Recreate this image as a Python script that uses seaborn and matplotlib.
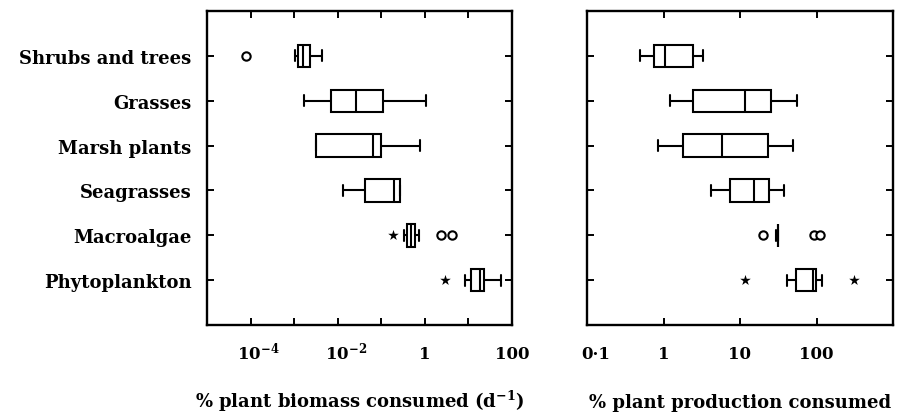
import numpy as np
import pandas as pd
import matplotlib
matplotlib.use("Agg")
import matplotlib.pyplot as plt
from matplotlib.ticker import FixedLocator, NullLocator
from matplotlib.transforms import ScaledTranslation
import seaborn as sns

# ---------------- data ----------------
categories = ["Shrubs and trees", "Grasses", "Marsh plants",
              "Seagrasses", "Macroalgae", "Phytoplankton"]

# Left panel: % plant biomass consumed (per day)
bio_whislo = [0.00105, 0.0017, 0.0031, 0.0135, 0.33, 8.5]
bio_q1     = [0.0012, 0.0072, 0.0032, 0.042, 0.39, 11.7]
bio_med    = [0.00158, 0.026, 0.063, 0.20, 0.47, 18.0]
bio_q3     = [0.0023, 0.11, 0.10, 0.27, 0.59, 22.4]
bio_whishi = [0.0044, 1.05, 0.77, 0.275, 0.74, 57.0]
bio_circle_cat = ["Shrubs and trees", "Macroalgae", "Macroalgae"]
bio_circle_val = [7.8e-5, 2.4, 4.1]
bio_star_cat = ["Macroalgae", "Phytoplankton"]
bio_star_val = [0.19, 2.95]
bio_ticks  = [1e-5, 1e-4, 1e-3, 1e-2, 1e-1, 1, 10, 100]
bio_labels = ["", r"$10^{-4}$", "", r"$10^{-2}$", "", "1", "", "100"]

# Right panel: % plant production consumed
prod_whislo = [0.50, 1.23, 0.85, 4.2, 29.5, 40.7]
prod_q1     = [0.76, 2.45, 1.8, 7.4, 31.0, 53.7]
prod_med    = [1.05, 11.5, 5.75, 15.1, 31.0, 91.0]
prod_q3     = [2.45, 25.7, 22.9, 24.0, 31.0, 98.0]
prod_whishi = [3.3, 55.0, 49.0, 38.0, 31.5, 117.0]
prod_circle_cat = ["Macroalgae", "Macroalgae", "Macroalgae"]
prod_circle_val = [20.0, 93.0, 112.0]
prod_star_cat = ["Phytoplankton", "Phytoplankton"]
prod_star_val = [11.7, 309.0]
prod_ticks  = [0.1, 1, 10, 100, 1000]
prod_labels = ["0\u00b71", "1", "10", "100", ""]

xlabel_left = "% plant biomass consumed (d$^{-1}$)"
xlabel_right = "% plant production consumed"


def long_table(lo, q1, med, q3, hi):
    rows = []
    for c, a, b, m, d, e in zip(categories, lo, q1, med, q3, hi):
        for v in (a, b, m, d, e):
            rows.append((c, v))
    return pd.DataFrame(rows, columns=["cat", "val"])


# ---------------- style ----------------
FONT = "DejaVu Serif"
sns.set_theme(style="ticks")
plt.rcParams["font.family"] = [FONT, "Liberation Serif"]
plt.rcParams["font.weight"] = "bold"
plt.rcParams["mathtext.fontset"] = "custom"
plt.rcParams["mathtext.rm"] = FONT + ":bold"
plt.rcParams["mathtext.it"] = FONT + ":bold"
plt.rcParams["mathtext.bf"] = FONT + ":bold"
for key in ("text.color", "axes.labelcolor", "xtick.color", "ytick.color",
            "xtick.labelcolor", "ytick.labelcolor", "axes.edgecolor"):
    plt.rcParams[key] = "black"

fig = plt.figure(figsize=(9.24, 4.14), dpi=100)
ax1 = fig.add_axes([207 / 924, 88 / 414, 305 / 924, 314 / 414])
ax2 = fig.add_axes([587 / 924, 88 / 414, 306 / 924, 314 / 414])

panels = [
    (ax1, long_table(bio_whislo, bio_q1, bio_med, bio_q3, bio_whishi),
     bio_circle_cat, bio_circle_val, bio_star_cat, bio_star_val,
     (1e-5, 1e2), bio_ticks, bio_labels, xlabel_left),
    (ax2, long_table(prod_whislo, prod_q1, prod_med, prod_q3, prod_whishi),
     prod_circle_cat, prod_circle_val, prod_star_cat, prod_star_val,
     (0.1, 1000), prod_ticks, prod_labels, xlabel_right),
]

for (ax, df, ccat, cval, scat, sval, xlim, ticks, labels, xlabel) in panels:
    sns.boxplot(data=df, x="val", y="cat", order=categories, ax=ax,
                whis=(0, 100), width=0.5, color="white", linecolor="black",
                linewidth=1.5, log_scale=True, showfliers=False)
    sns.stripplot(x=cval, y=ccat, order=categories, ax=ax, jitter=False,
                  marker="o", color="white", edgecolor="black",
                  linewidth=1.5, size=6, zorder=4)
    sns.stripplot(x=sval, y=scat, order=categories, ax=ax, jitter=False,
                  marker="*", color="black", linewidth=0, size=8, zorder=4)

    ax.set_xscale("log")
    ax.set_xlim(*xlim)
    ax.set_ylim(6, -1)
    ax.xaxis.set_major_locator(FixedLocator(ticks))
    ax.xaxis.set_minor_locator(NullLocator())
    ax.set_xticklabels(labels)
    ax.set_yticks(range(len(categories)))
    ax.set_ylabel("")
    ax.set_xlabel(xlabel, fontsize=13, fontweight="bold", color="black",
                  verticalalignment="baseline")
    ax.xaxis.set_label_coords(0.5, -0.26)
    ax.tick_params(axis="both", which="major", direction="in", length=5,
                   width=1.4, color="black", labelcolor="black",
                   top=True, right=True, labelsize=12, pad=24)
    ax.tick_params(axis="y", pad=11, labelsize=13)
    for s in ax.spines.values():
        s.set_visible(True)
        s.set_linewidth(1.7)
        s.set_color("black")
    ax.grid(False)

ax1.set_yticklabels(categories, fontweight="bold", color="black")
ax2.tick_params(axis="y", labelleft=False)

for ax in (ax1, ax2):
    for lab in ax.get_xticklabels():
        lab.set_verticalalignment("baseline")
        lab.set_fontweight("bold")
        lab.set_color("black")
        txt = lab.get_text()
        if "^" in txt:
            shift = 8 / 100
        elif "\u00b7" in txt:
            shift = 9 / 100
        else:
            shift = 0
        if shift:
            lab.set_transform(lab.get_transform() +
                              ScaledTranslation(shift, 0, fig.dpi_scale_trans))

fig.savefig("out.png", dpi=100)
